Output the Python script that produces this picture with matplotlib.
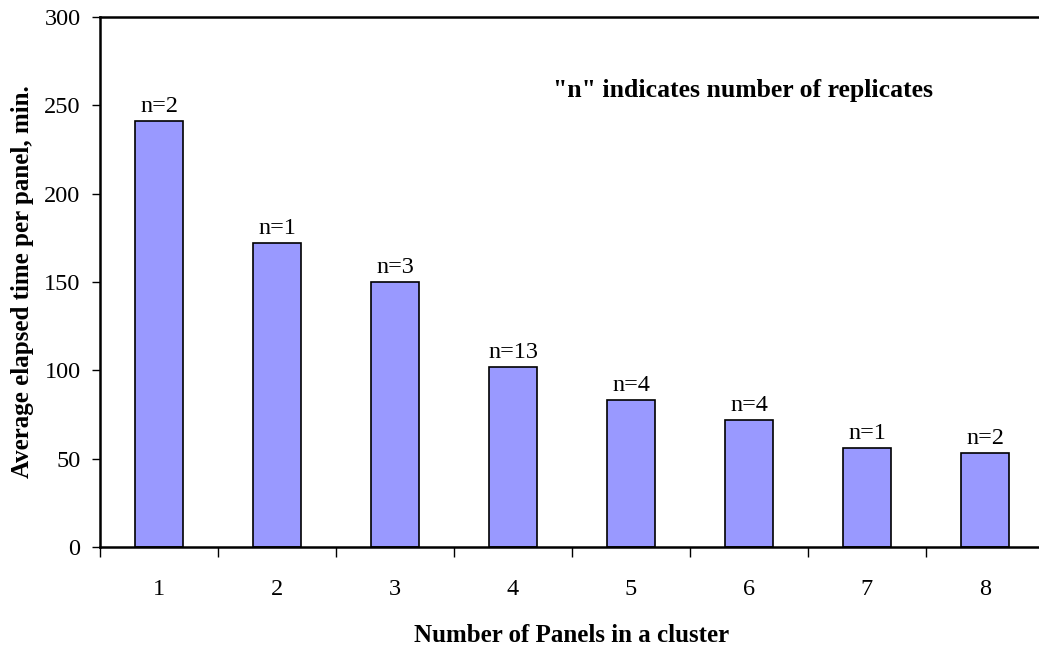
import numpy as np
import matplotlib.pyplot as plt

# cluster size vs. average elapsed time per panel
panels = ["1", "2", "3", "4", "5", "6", "7", "8"]
avg_time = [241, 172, 150, 102, 83, 72, 56, 53]
replicates = [2, 1, 3, 13, 4, 4, 1, 2]

plt.rcParams["font.family"] = ["Liberation Serif", "DejaVu Serif"]

fig = plt.figure(figsize=(10.39, 6.47), dpi=100)
W, H = 1039, 647
ax = fig.add_axes([100 / W, (H - 547) / H, 944 / W, 530 / H])

x = np.arange(len(panels))
bars = ax.bar(x, avg_time, width=0.41, color="#9999FF", edgecolor="black", linewidth=1.2, zorder=2)

for b, n in zip(bars, replicates):
    ax.annotate(f"n={n}", (b.get_x() + b.get_width() / 2, b.get_height()),
                xytext=(0, 3), textcoords="offset points", ha="center", va="bottom", fontsize=17.5)

ax.set_xlim(-0.5, len(panels) - 0.5)
ax.set_ylim(0, 300)
ax.set_yticks(range(0, 301, 50))

# category labels between boundary ticks
ax.set_xticks(np.arange(len(panels) + 1) - 0.5)
ax.set_xticklabels([])
ax.set_xticks(x, minor=True)
ax.set_xticklabels(panels, minor=True, fontsize=17.5)
ax.tick_params(axis="x", which="major", direction="out", length=7, width=1)
ax.tick_params(axis="x", which="minor", length=0, pad=23)
ax.tick_params(axis="y", direction="out", length=6, width=1, labelsize=17.5, pad=8)

for s in ["left", "bottom", "top"]:
    ax.spines[s].set_linewidth(1.8)
ax.spines["right"].set_visible(False)

ax.set_ylabel("Average elapsed time per panel, min.", fontsize=18, fontweight="bold", labelpad=7)
ax.set_xlabel("Number of Panels in a cluster", fontsize=18, fontweight="bold", labelpad=17)
ax.text(0.48, 0.862, '"n" indicates number of replicates', transform=ax.transAxes,
        fontsize=18.5, fontweight="bold", ha="left", va="center")

fig.savefig("out.png", dpi=100)
